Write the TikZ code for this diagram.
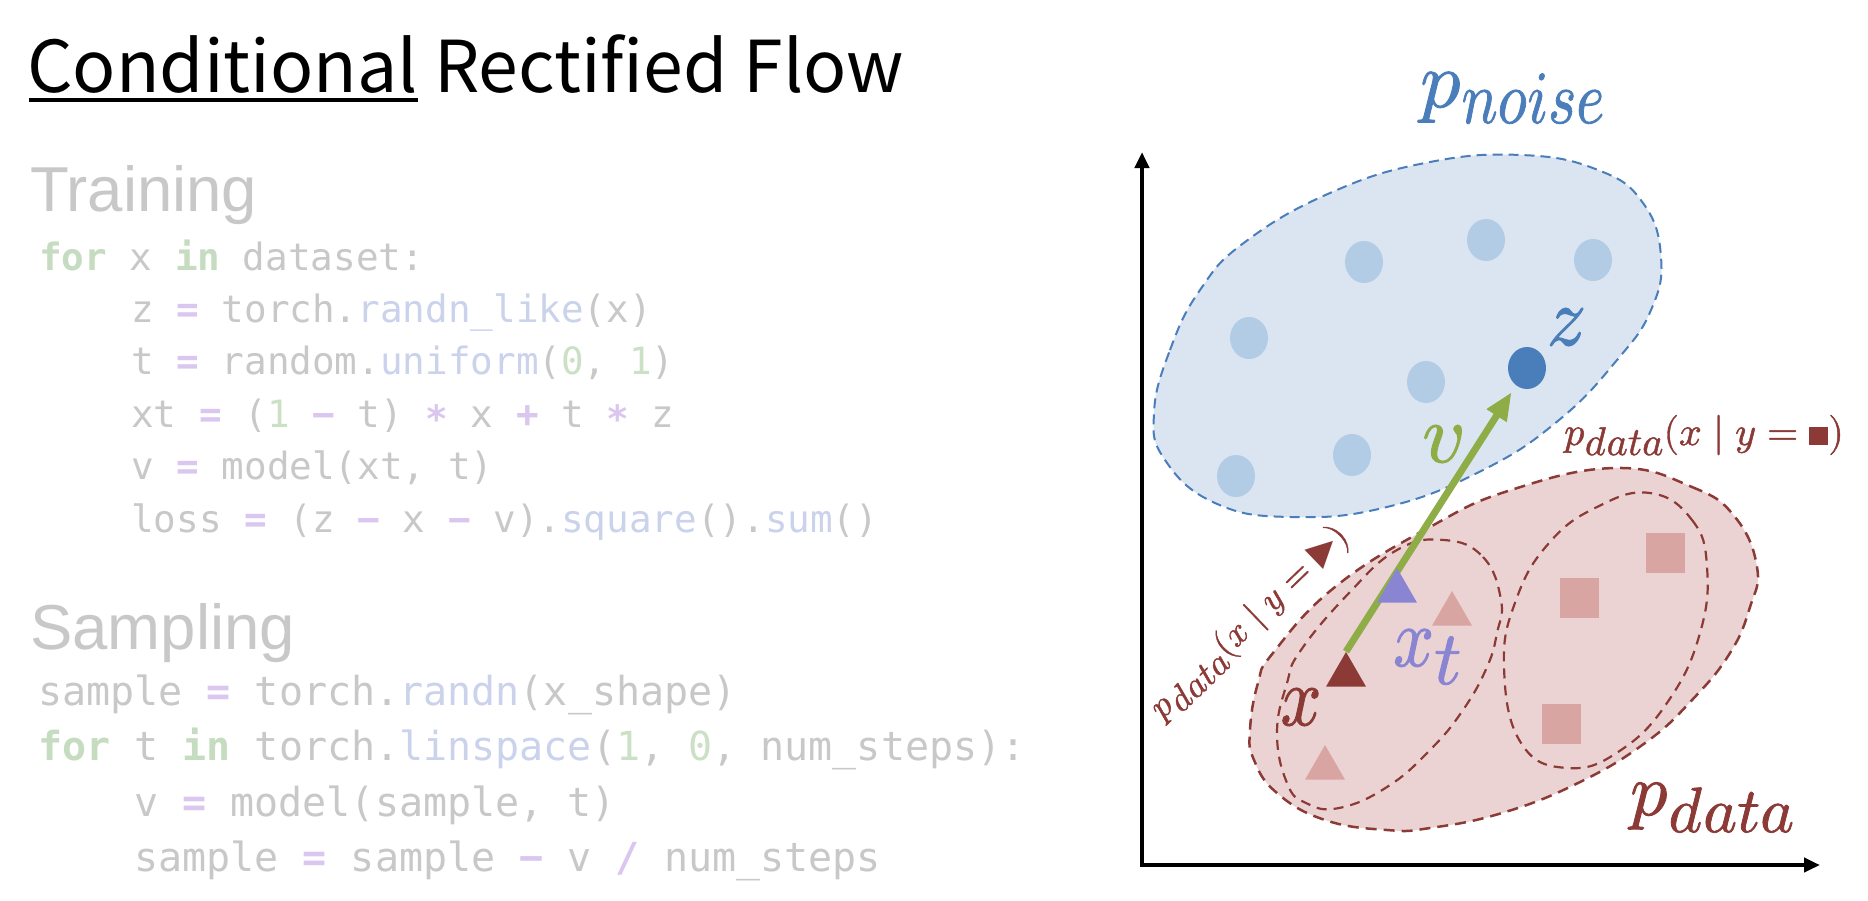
\documentclass[tikz,border=0pt]{standalone}
\usepackage{fontspec}
\usepackage{unicode-math}
\setmathfont{latinmodern-math.otf}[FakeBold=1.2]
\setmonofont{DejaVu Sans Mono}
\newfontfamily\titlefont{Noto Sans CJK SC}
\newfontfamily\headfont{Liberation Sans}
\newfontfamily\symfont{DejaVu Sans}
\usetikzlibrary{arrows.meta,calc,shapes.geometric}
\definecolor{codegray}{HTML}{C8C8C8}
\definecolor{codegreen}{HTML}{C6DCC0}
\definecolor{codeop}{HTML}{DAC6EF}
\definecolor{codefn}{HTML}{CBD3EC}
\definecolor{codenum}{HTML}{CCE0C5}
\definecolor{headgray}{HTML}{C8C8C8}
\definecolor{bluefill}{HTML}{DAE5F1}
\definecolor{blueline}{HTML}{4A7EBB}
\definecolor{bluedot}{HTML}{B3CCE5}
\definecolor{redfill}{HTML}{EBD3D3}
\definecolor{redline}{HTML}{8B3A36}
\definecolor{redlight}{HTML}{D9A5A3}
\definecolor{purp}{HTML}{8A85D2}
\definecolor{grn}{HTML}{8FAD47}
\newcommand\ckw[1]{{\bfseries\color{codegreen}#1}}
\newcommand\cop[1]{{\bfseries\color{codeop}#1}}
\newcommand\cstar{{\bfseries\color{codeop}\raisebox{-0.13em}{*}}}
\newcommand\cfn[1]{{\color{codefn}#1}}
\newcommand\cnum[1]{{\color{codenum}#1}}
% main letter size, main, sub size, sub (text mode), drop
\newcommand\subl[5]{{\fontsize{#1}{#1}\selectfont$#2$}{\fontsize{#3}{#3}\selectfont\raisebox{-#5pt}{#4}}}
\begin{document}
\begin{tikzpicture}[x=1pt,y=-1pt,
  titletext/.style={anchor=base west,inner sep=0pt,font=\titlefont\fontsize{71.5}{72}\selectfont},
  headtext/.style={anchor=base west,inner sep=0pt,text=headgray,font=\headfont\fontsize{63.5}{64}\selectfont},
  code/.style={anchor=base west,inner sep=0pt,text=codegray,font=\ttfamily\fontsize{37.6}{40}\selectfont},
  scode/.style={code,font=\ttfamily\fontsize{40}{42}\selectfont},
  bluereg/.style={fill=bluefill,draw=blueline,line width=2pt,dash pattern=on 10pt off 6pt},
  redreg/.style={fill=redfill,draw=redline,line width=2.5pt,dash pattern=on 11pt off 7pt},
  subreg/.style={draw=redline,line width=2.2pt,dash pattern=on 10pt off 7pt},
  dotnode/.style={ellipse,inner sep=0pt,minimum width=38pt,minimum height=42pt,fill=bluedot},
  tri/.style={regular polygon,regular polygon sides=3,inner sep=0pt,minimum size=46pt},
  sq/.style={rectangle,inner sep=0pt,minimum width=39pt,minimum height=40pt,fill=redlight},
  mathlbl/.style={inner sep=0pt,font=\fontsize{84}{84}\selectfont},
  axis/.style={line width=4pt,-{Triangle[length=16pt,width=14pt]}}
]
\useasboundingbox (0,0) rectangle (1868,900);
\fill[white] (0,0) rectangle (1868,900);

% title
\node[titletext] (tc) at (27,92) {Conditional};
\node[titletext] (tr) at ($(tc.base east)+(16,0)$) {Rectified Flow};
\fill ($(tc.base west)+(2,6)$) rectangle ($(tc.base east)+(0,10)$);

% training
\node[headtext] (htrain) at (30,211) {Training};
\node[code] (c1) at (39,270) {\ckw{for} x \ckw{in} dataset:};
\node[code] (c2) at (131,322.4) {z \cop{=} torch.\cfn{randn\_like}(x)};
\node[code] (c3) at (131,374.8) {t \cop{=} random.\cfn{uniform}(\cnum{0}, \cnum{1})};
\node[code] (c4) at (131,427.2) {xt \cop{=} (\cnum{1} \cop{−} t) \cstar{} x \cop{+} t \cstar{} z};
\node[code] (c5) at (131,479.6) {v \cop{=} model(xt, t)};
\node[code] (c6) at (131,532) {loss \cop{=} (z \cop{−} x \cop{−} v).\cfn{square}().\cfn{sum}()};

% sampling
\node[headtext] (hsamp) at (30,649) {Sampling};
\node[scode] (s1) at (38,705) {sample \cop{=} torch.\cfn{randn}(x\_shape)};
\node[scode] (s2) at (38,760.5) {\ckw{for} t \ckw{in} torch.\cfn{linspace}(\cnum{1}, \cnum{0}, num\_steps):};
\node[scode] (s3) at (134,816) {v \cop{=} model(sample, t)};
\node[scode] (s4) at (134,871.5) {sample \cop{=} sample \cop{−} v \cop{/} num\_steps};

% axes
\coordinate (origin) at (1142,865);
\coordinate (ytip) at (1142,152);
\coordinate (xtip) at (1820,865);
\draw[axis] ($(origin)+(0,2)$) -- (ytip);
\draw[axis] ($(origin)+(-2,0)$) -- (xtip);

% blue region
\draw[bluereg] plot[smooth cycle,tension=0.75] coordinates {
 (1154,413) (1170,350) (1200,290) (1245,242) (1330,193) (1425,163) (1521,155)
 (1598,170) (1643,203) (1661,257) (1651,310) (1617,360) (1559,420) (1483,470)
 (1387,507) (1291,517) (1215,503) (1165,460)};

% red region
\draw[redreg] plot[smooth cycle,tension=0.75] coordinates {
 (1616,468) (1692,487) (1735,517) (1757,567) (1750,607) (1730,653) (1692,700)
 (1645,743) (1578,783) (1502,813) (1430,828) (1387,830) (1325,820) (1277,793)
 (1254,760) (1250,730) (1258,683) (1273,653) (1335,587) (1430,527) (1511,490)};
\draw[subreg] plot[smooth cycle,tension=0.75] coordinates {
 (1444,540) (1483,557) (1501,600) (1497,633) (1487,667) (1463,710) (1430,750)
 (1387,787) (1339,808) (1306,803) (1287,783) (1277,733) (1287,683) (1301,650)
 (1349,593) (1397,550)};
\draw[subreg] plot[smooth cycle,tension=0.75] coordinates {
 (1650,493) (1692,520) (1707,567) (1700,633) (1669,700) (1621,750) (1568,768)
 (1521,743) (1504,667) (1516,600) (1549,543) (1597,507)};

% noise samples
\node[dotnode] (n1) at (1364,262) {};
\node[dotnode] (n2) at (1486,240) {};
\node[dotnode] (n3) at (1593,260) {};
\node[dotnode] (n4) at (1249,338) {};
\node[dotnode] (n5) at (1426,382) {};
\node[dotnode] (n6) at (1236,476) {};
\node[dotnode] (n7) at (1352,455) {};
\node[dotnode,fill=blueline] (zdot) at (1527,368) {};

% data samples
\node[sq] (q1) at (1665,553) {};
\node[sq] (q2) at (1579,598) {};
\node[sq] (q3) at (1561,724) {};
\node[tri,fill=redlight] (t1) at (1452,614) {};
\node[tri,fill=redlight] (t2) at (1325,768) {};
\node[tri,fill=redline] (xtri) at (1346,675) {};

% flow arrow
\draw[grn,line width=7pt,-{Triangle[length=28pt,width=22pt]},shorten >=8pt] (xtri.north) -- (zdot);
\node[tri,fill=purp] (xttri) at (1397,591) {};

% labels
\node[inner sep=0pt,anchor=base west,text=blueline] (lnoise) at (1420,107)
  {\subl{80}{p}{75}{\scalebox{0.8}[1]{$noise$}}{16}};
\node[mathlbl,text=blueline] (lz) at (1566,327) {\scalebox{0.92}[1]{$z$}};
\node[mathlbl,text=grn] (lv) at (1443,444) {$v$};
\node[mathlbl,text=redline] (lx) at (1301,707) {\scalebox{0.85}[1]{$x$}};
\node[inner sep=0pt,anchor=base west,text=purp] (lxt) at (1393,666)
  {\subl{84}{\scalebox{0.85}[1]{$x$}}{76}{$t$}{18}};
\node[inner sep=0pt,anchor=base west,text=redline] (lsq) at (1564,445)
  {\subl{40}{p}{40}{$data$}{10}{\fontsize{40}{40}\selectfont$(x\mid y=\mbox{\rule{19pt}{18pt}})$}};
\node[inner sep=0pt,text=redline,rotate=44] (ltri) at (1250,623)
  {\subl{36}{p}{36}{$data$}{9}{\fontsize{36}{36}\selectfont$(x\mid y=\mbox{\fontsize{35}{35}\symfont ▶})$}};
\node[inner sep=0pt,anchor=base west,text=redline] (ldata) at (1630,815) {\subl{74}{p}{64}{$data$}{17}};
\end{tikzpicture}
\end{document}
